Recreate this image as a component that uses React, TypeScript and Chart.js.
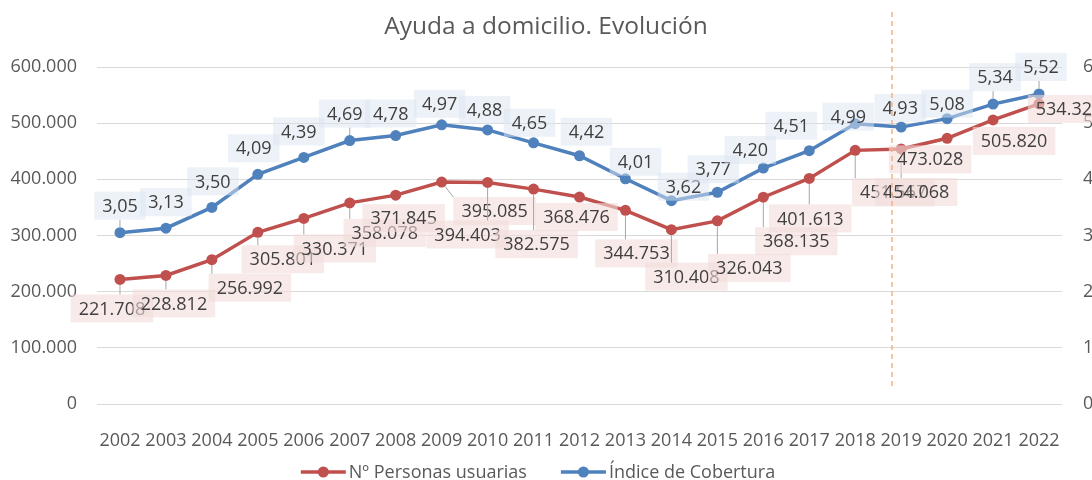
import React, { useEffect, useRef } from 'react';
import { Chart, registerables } from 'chart.js';

Chart.register(...registerables);

// ---- data ----
const years = ['2002', '2003', '2004', '2005', '2006', '2007', '2008', '2009', '2010', '2011', '2012', '2013', '2014', '2015', '2016', '2017', '2018', '2019', '2020', '2021', '2022'];
const usuarios = [221708, 228812, 256992, 305801, 330371, 358078, 371845, 395085, 394403, 382575, 368476, 344753, 310408, 326043, 368135, 401613, 451567, 454068, 473028, 505820, 534321];
const cobertura = [3.05, 3.13, 3.5, 4.09, 4.39, 4.69, 4.78, 4.97, 4.88, 4.65, 4.42, 4.01, 3.62, 3.77, 4.2, 4.51, 4.99, 4.93, 5.08, 5.34, 5.52];
const leftTicks = [0, 100000, 200000, 300000, 400000, 500000, 600000];
const rightTicks = [0, 1, 2, 3, 4, 5, 6];
const seriesNames = ['Nº Personas usuarias', 'Índice de Cobertura'];
const titleText = 'Ayuda a domicilio. Evolución';
// divider between 2018 and 2019 (category index)
const dividerIndex = 16.8;

// label placement (pixel offsets of each label centre from its point)
const redLabelOffsets: [number, number][] = [
  [-8, 29], [8, 28], [38, 28], [25, 27], [31, 30], [35, 30], [8, 23], [53, 29], [-20, 52], [3, 55],
  [-3, 20], [11, 43], [15, 47], [32, 47], [33, 44], [1, 40], [38, 42], [15, 43], [-17, 21], [21, 21], [30, 5],
];
const blueLabelOffsets: [number, number][] = [
  [0, -27], [0, -26], [1, -26], [-4, -26], [-5, -26], [-5, -27], [-5, -22], [-2, -21], [-3, -20], [-4, -20],
  [7, -24], [10, -17], [12, -14], [-4, -23], [-13, -18], [-18, -25], [-7, -7], [-1, -19], [0, -15], [2, -27], [2, -27],
];

const RED = '#C0504D';
const BLUE = '#4F81BD';
const FONT = "'Open Sans', 'Noto Sans', sans-serif";
const TEXT = '#595959';
const LABEL_TEXT = '#404040';

const fmtThousands = (n: number) => Math.round(n).toString().replace(/\B(?=(\d{3})+(?!\d))/g, '.');
const fmtDec = (v: number) => v.toFixed(2).replace('.', ',');

const labelsPlugin = {
  id: 'customLabels',
  afterDatasetsDraw(chart: any) {
    const ctx = chart.ctx;
    ctx.save();
    ctx.font = `18px ${FONT}`;
    ctx.textAlign = 'center';
    ctx.textBaseline = 'middle';
    const groups = [
      { ds: 1, offsets: blueLabelOffsets, fill: 'rgba(220,230,242,0.5)', fmt: (v: number) => fmtDec(v) },
      { ds: 0, offsets: redLabelOffsets, fill: 'rgba(242,220,219,0.6)', fmt: (v: number) => fmtThousands(v) },
    ];
    const halfH = 14;
    const radius = 5.5;
    for (const g of groups) {
      const meta = chart.getDatasetMeta(g.ds);
      const values = chart.data.datasets[g.ds].data as number[];
      meta.data.forEach((pt: any, i: number) => {
        const [dx, dy] = g.offsets[i];
        const cx = pt.x + dx;
        const cy = pt.y + dy;
        const text = g.fmt(values[i]);
        const w = ctx.measureText(text).width;
        const halfW = w / 2 + 8;
        const x0 = cx - halfW, x1 = cx + halfW, y0 = cy - halfH, y1 = cy + halfH;
        // leader line
        const nx = Math.min(Math.max(pt.x, x0), x1);
        const ny = Math.min(Math.max(pt.y, y0), y1);
        const dist = Math.hypot(nx - pt.x, ny - pt.y);
        if (dist - radius > 7) {
          const ux = (nx - pt.x) / dist, uy = (ny - pt.y) / dist;
          ctx.strokeStyle = '#A6A6A6';
          ctx.lineWidth = 1;
          ctx.beginPath();
          ctx.moveTo(pt.x + ux * radius, pt.y + uy * radius);
          ctx.lineTo(nx, ny);
          ctx.stroke();
        }
        ctx.fillStyle = g.fill;
        ctx.fillRect(x0, y0, halfW * 2, halfH * 2);
        ctx.fillStyle = LABEL_TEXT;
        ctx.fillText(text, cx, cy + 1);
      });
    }
    ctx.restore();
  },
  afterDraw(chart: any) {
    const ctx = chart.ctx;
    const xs = chart.scales.x;
    // dashed divider
    const a = Math.floor(dividerIndex);
    const p0 = xs.getPixelForValue(a);
    const p1 = xs.getPixelForValue(a + 1);
    const dxp = p0 + (p1 - p0) * (dividerIndex - a);
    ctx.save();
    ctx.strokeStyle = '#F4B183';
    ctx.lineWidth = 1.5;
    ctx.setLineDash([5, 4]);
    ctx.beginPath();
    ctx.moveTo(dxp, 12);
    ctx.lineTo(dxp, 388);
    ctx.stroke();
    ctx.restore();

    // legend
    ctx.save();
    ctx.font = `18px ${FONT}`;
    ctx.textBaseline = 'middle';
    ctx.textAlign = 'left';
    const colors = [RED, BLUE];
    const lineLen = 45;
    const gapText = 3;
    const gapItems = 34;
    const widths = seriesNames.map((s) => ctx.measureText(s).width);
    const total = widths.reduce((s, w) => s + lineLen + gapText + w, 0) + gapItems;
    let x = chart.width / 2 - 8 - total / 2;
    const y = 472;
    seriesNames.forEach((name, i) => {
      ctx.strokeStyle = colors[i];
      ctx.lineWidth = 3.5;
      ctx.beginPath();
      ctx.moveTo(x, y);
      ctx.lineTo(x + lineLen, y);
      ctx.stroke();
      ctx.fillStyle = colors[i];
      ctx.beginPath();
      ctx.arc(x + lineLen / 2, y, 5.5, 0, Math.PI * 2);
      ctx.fill();
      ctx.fillStyle = TEXT;
      ctx.fillText(name, x + lineLen + gapText, y + 1);
      x += lineLen + gapText + widths[i] + gapItems;
    });
    ctx.restore();
  },
};

export default function App() {
  const ref = useRef<HTMLCanvasElement | null>(null);
  useEffect(() => {
    document.body.style.margin = '0';
    const canvas = ref.current;
    if (!canvas) return;
    const chart = new Chart(canvas, {
      type: 'line',
      data: {
        labels: years,
        datasets: [
          {
            label: seriesNames[0],
            data: usuarios,
            yAxisID: 'y',
            borderColor: RED,
            backgroundColor: RED,
            pointBackgroundColor: RED,
            pointBorderWidth: 0,
            pointRadius: 5.5,
            borderWidth: 3.5,
            tension: 0,
          },
          {
            label: seriesNames[1],
            data: cobertura,
            yAxisID: 'y1',
            borderColor: BLUE,
            backgroundColor: BLUE,
            pointBackgroundColor: BLUE,
            pointBorderWidth: 0,
            pointRadius: 5.5,
            borderWidth: 3.5,
            tension: 0,
          },
        ],
      },
      options: {
        animation: false,
        responsive: false,
        maintainAspectRatio: false,
        layout: { padding: { top: 0, bottom: 26, left: 0, right: 0 } },
        plugins: {
          legend: { display: false },
          tooltip: { enabled: false },
          title: {
            display: true,
            text: titleText,
            color: TEXT,
            font: { size: 24.5, family: FONT, weight: 'normal' },
            padding: { top: 12, bottom: 25.6 },
          },
        },
        scales: {
          x: {
            type: 'category',
            offset: true,
            grid: { display: false, drawTicks: false },
            border: { display: false },
            ticks: {
              color: TEXT,
              font: { size: 18, family: FONT },
              padding: 26,
              autoSkip: false,
              maxRotation: 0,
              minRotation: 0,
            },
            afterFit: (s: any) => {
              s.height = 50;
            },
          },
          y: {
            position: 'left',
            min: 0,
            max: 600000,
            afterBuildTicks: (s: any) => {
              s.ticks = leftTicks.map((v) => ({ value: v }));
            },
            grid: { color: '#D9D9D9', lineWidth: 1, drawTicks: false },
            border: { display: false },
            ticks: {
              color: TEXT,
              font: { size: 18, family: FONT },
              padding: 20,
              callback: (v: any) => fmtThousands(Number(v)),
            },
            afterFit: (s: any) => {
              s.width = 97;
            },
          },
          y1: {
            position: 'right',
            min: 0,
            max: 6,
            afterBuildTicks: (s: any) => {
              s.ticks = rightTicks.map((v) => ({ value: v }));
            },
            grid: { display: false, drawTicks: false },
            border: { display: false },
            ticks: {
              color: TEXT,
              font: { size: 18, family: FONT },
              padding: 21,
              callback: (v: any) => String(v),
            },
            afterFit: (s: any) => {
              s.width = 30;
            },
          },
        },
      },
      plugins: [labelsPlugin],
    } as any);
    return () => chart.destroy();
  }, []);
  return (
    <div style={{ position: 'fixed', left: 0, top: 0, width: 1092, height: 480, background: '#fff' }}>
      <canvas ref={ref} width={1092} height={480} style={{ display: 'block', width: 1092, height: 480 }} />
    </div>
  );
}
